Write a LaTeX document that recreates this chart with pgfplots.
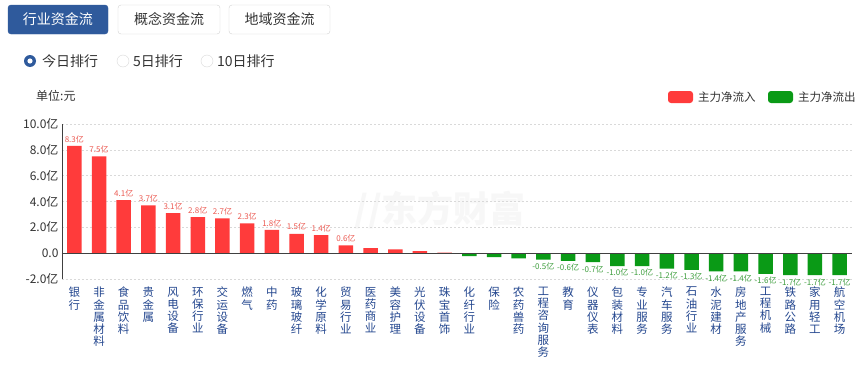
\documentclass[border=0pt]{standalone}
\usepackage{fontspec}
\setmainfont{Noto Sans CJK SC}
\usepackage{pgfplots}
\pgfplotsset{compat=1.18}
\definecolor{upred}{HTML}{FF3B3B}
\definecolor{dngreen}{HTML}{0A9A16}
\definecolor{uplab}{HTML}{EC5A52}
\definecolor{dnlab}{HTML}{3E9E3E}
\definecolor{catblue}{HTML}{24478F}
\definecolor{btnblue}{HTML}{2F5A9C}
\definecolor{txt}{HTML}{333333}
\begin{document}
\begin{tikzpicture}[x=1pt,y=1pt]
\path[fill=white,use as bounding box] (0,0) rectangle (868,368);
% top buttons
\draw[fill=btnblue,draw=btnblue,rounded corners=3pt] (8,334) rectangle (108,363);
\node[text=white,font=\fontsize{14}{16}\selectfont] at (58,348.5) {行业资金流};
\draw[draw=gray!35,rounded corners=3pt] (118,334) rectangle (220,363);
\node[text=txt,font=\fontsize{14}{16}\selectfont] at (169,348.5) {概念资金流};
\draw[draw=gray!35,rounded corners=3pt] (229,334) rectangle (330,363);
\node[text=txt,font=\fontsize{14}{16}\selectfont] at (279.5,348.5) {地域资金流};
% radios
\fill[btnblue] (30,307) circle (6);
\fill[white] (30,307) circle (2.6);
\node[anchor=west,text=txt,inner sep=0pt,font=\fontsize{14}{16}\selectfont] at (42,307) {今日排行};
\draw[gray!30,fill=white] (123,307) circle (6);
\node[anchor=west,text=txt,inner sep=0pt,font=\fontsize{14}{16}\selectfont] at (133,307) {5日排行};
\draw[gray!30,fill=white] (207,307) circle (6);
\node[anchor=west,text=txt,inner sep=0pt,font=\fontsize{14}{16}\selectfont] at (217,307) {10日排行};
% unit
\node[anchor=west,text=txt,inner sep=0pt,font=\fontsize{12}{14}\selectfont] at (36,272) {单位:元};
% legend
\fill[upred,rounded corners=3pt] (668,265) rectangle (693,277);
\node[anchor=west,text=txt,inner sep=0pt,font=\fontsize{11.5}{13}\selectfont] at (698,271) {主力净流入};
\fill[dngreen,rounded corners=3pt] (768,265) rectangle (793,277);
\node[anchor=west,text=txt,inner sep=0pt,font=\fontsize{11.5}{13}\selectfont] at (798,271) {主力净流出};
% watermark
\node[text=gray!6,font=\fontsize{36}{40}\selectfont\bfseries] at (440,158) {\textit{//}东方财富};
\begin{axis}[
  at={(62pt,89pt)}, anchor=south west,
  scale only axis, width=790pt, height=155pt,
  xmin=-0.5, xmax=31.5, ymin=-2, ymax=10,
  ytick={-2,0,2,4,6,8,10},
  yticklabels={-2.0亿,0.0,2.0亿,4.0亿,6.0亿,8.0亿,10.0亿},
  /pgf/number format/assume math mode=true,
  yticklabel style={font=\fontsize{12}{14}\selectfont, text=txt},
  ymajorgrids, grid style={gray!30, dash pattern=on 2pt off 2pt},
  axis y line*=left, axis x line*=bottom,
  x axis line style={draw=none}, y axis line style={draw=black!75},
  major tick length=0pt,
  xtick={0,...,31},
  xticklabels={银\\行,非\\金\\属\\材\\料,食\\品\\饮\\料,贵\\金\\属,风\\电\\设\\备,环\\保\\行\\业,交\\运\\设\\备,燃\\气,中\\药,玻\\璃\\玻\\纤,化\\学\\原\\料,贸\\易\\行\\业,医\\药\\商\\业,美\\容\\护\\理,光\\伏\\设\\备,珠\\宝\\首\\饰,化\\纤\\行\\业,保\\险,农\\药\\兽\\药,工\\程\\咨\\询\\服\\务,教\\育,仪\\器\\仪\\表,包\\装\\材\\料,专\\业\\服\\务,汽\\车\\服\\务,石\\油\\行\\业,水\\泥\\建\\材,房\\地\\产\\服\\务,工\\程\\机\\械,铁\\路\\公\\路,家\\用\\轻\\工,航\\空\\机\\场},
  xticklabel style={align=center, anchor=north, inner sep=0pt, yshift=-8pt, text=catblue, font=\fontsize{11.5}{12.2}\selectfont},
  ybar, bar width=14.5pt, bar shift=0pt,
  nodes near coords, point meta=explicit symbolic,
  clip=false,
]
\addplot[fill=upred, draw=none,
  nodes near coords style={text=uplab, font=\fontsize{8}{9}\selectfont, anchor=south, inner sep=1.5pt, yshift=1.5pt}]
 coordinates {(0,8.3)[8.3亿] (1,7.5)[7.5亿] (2,4.1)[4.1亿] (3,3.7)[3.7亿] (4,3.1)[3.1亿] (5,2.8)[2.8亿] (6,2.7)[2.7亿] (7,2.3)[2.3亿] (8,1.8)[1.8亿] (9,1.5)[1.5亿] (10,1.4)[1.4亿] (11,0.6)[0.6亿] (12,0.4)[] (13,0.3)[] (14,0.15)[] (15,0.05)[]};
\addplot[fill=dngreen, draw=none,
  nodes near coords style={text=dnlab, font=\fontsize{8}{9}\selectfont, anchor=north, inner sep=1.5pt, yshift=-1.5pt}]
 coordinates {(16,-0.23)[] (17,-0.3)[] (18,-0.4)[] (19,-0.5)[-0.5亿] (20,-0.6)[-0.6亿] (21,-0.7)[-0.7亿] (22,-1.0)[-1.0亿] (23,-1.0)[-1.0亿] (24,-1.2)[-1.2亿] (25,-1.3)[-1.3亿] (26,-1.4)[-1.4亿] (27,-1.4)[-1.4亿] (28,-1.6)[-1.6亿] (29,-1.7)[-1.7亿] (30,-1.7)[-1.7亿] (31,-1.7)[-1.7亿]};
\draw[black!75] (axis cs:-0.5,0) -- (axis cs:31.5,0);
\end{axis}
\end{tikzpicture}
\end{document}
